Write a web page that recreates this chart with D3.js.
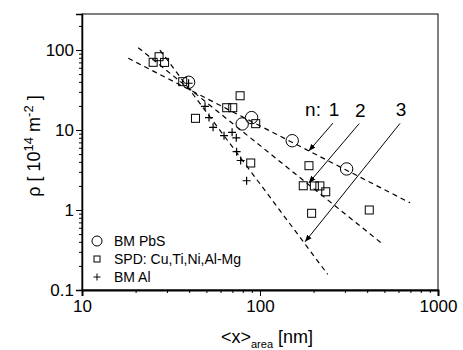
<!DOCTYPE html>
<html><head><meta charset="utf-8">
<script src="https://cdn.jsdelivr.net/npm/d3@7"></script>
<style>body{margin:0;background:#fff}svg{display:block}text{font-family:"Liberation Sans",Arial,sans-serif;fill:#000}</style>
</head><body>
<svg id="c" width="463" height="350"></svg>
<script>
// Data
const pbsX = [39.7, 79.4, 89.7, 151.7, 306.7];
const pbsY = [39.5, 11.9, 14.3, 7.35, 3.26];
const spdX = [25.1, 27.1, 29.1, 36.8, 43.4, 65, 70.3, 77.3, 94.6, 88.7, 188.4, 175, 202, 217, 234, 195, 411];
const spdY = [70.2, 82.5, 70, 40.2, 14.0, 19, 19, 26.8, 12, 3.87, 3.58, 2.01, 2.0, 2.0, 1.69, 0.91, 1.0];
const alX = [39.7, 49.1, 51.7, 54.5, 62.8, 69.7, 73.6, 73.9, 77.9, 84.1];
const alY = [38.4, 19.8, 14.3, 10.8, 8.5, 9.36, 7.99, 5.36, 4.16, 2.32];
// fitted lines n = 1,2,3 : [x0, y0, x1, y1]
const fitN = ["1", "2", "3"];
const fitX0 = [18.2, 20.7, 27.4];
const fitY0 = [78.8, 107, 100];
const fitX1 = [697, 483, 240];
const fitY1 = [1.23, 0.383, 0.157];
// arrows from labels to lines
const arrX0 = [257, 361, 612];
const arrY0 = [12.2, 12.05, 12.1];
const arrX1 = [188, 188, 179];
const arrY1 = [5.46, 2.18, 0.40];
const xTicks = [10, 100, 1000];
const yTicks = [0.1, 1, 10, 100];
const legendLabels = ["BM PbS", "SPD: Cu,Ti,Ni,Al-Mg", "BM Al"];

const svg = d3.select("#c");
const L = 82, R = 438, T = 14, B = 290;
const x = d3.scaleLog().domain([10, 1000]).range([L, R]);
const y = d3.scaleLog().domain([0.1, 282]).range([B, T]);

svg.append("defs").append("marker").attr("id", "ah").attr("viewBox", "0 0 10 10")
  .attr("refX", 10).attr("refY", 5).attr("markerWidth", 7).attr("markerHeight", 7)
  .attr("markerUnits", "userSpaceOnUse").attr("orient", "auto")
  .append("path").attr("d", "M0,1 L10,5 L0,9 Z").attr("fill", "#000");

// frame
svg.append("rect").attr("x", L).attr("y", T).attr("width", R - L).attr("height", B - T)
  .attr("fill", "none").attr("stroke", "#000").attr("stroke-width", 1);

// x axis
const xMinor = [];
for (let d = 10; d < 1000; d *= 10) for (let k = 2; k <= 9; k++) xMinor.push(d * k);
const gx = svg.append("g").attr("transform", `translate(0,${B})`);
gx.call(d3.axisBottom(x).tickValues(xMinor).tickSize(3).tickFormat(""));
gx.call(g => g.select(".domain").remove());
const gx2 = svg.append("g").attr("transform", `translate(0,${B})`)
  .call(d3.axisBottom(x).tickValues(xTicks).tickSize(6).tickFormat(d3.format("d")).tickPadding(4));
gx2.select(".domain").attr("stroke-width", 2);
gx2.selectAll("text").attr("font-size", 17).attr("font-family", "Liberation Sans, Arial");
gx.selectAll("line").attr("stroke-width", 1);

// y axis
const yMinor = [];
for (let d = 0.1; d < 200; d *= 10) for (let k = 2; k <= 9; k++) { const v = +(d * k).toPrecision(3); if (v <= 282) yMinor.push(v); }
const gy = svg.append("g").attr("transform", `translate(${L},0)`)
  .call(d3.axisLeft(y).tickValues(yMinor).tickSize(3).tickFormat(""));
gy.select(".domain").remove();
const gy2 = svg.append("g").attr("transform", `translate(${L},0)`)
  .call(d3.axisLeft(y).tickValues(yTicks).tickSize(6).tickFormat(d => d < 1 ? "0.1" : d3.format("d")(d)).tickPadding(2));
gy2.select(".domain").attr("stroke-width", 1.5);
gy2.selectAll("text").attr("font-size", 17).attr("font-family", "Liberation Sans, Arial");

// dashed fit lines
const lineIdx = d3.range(fitN.length);
svg.append("g").selectAll("line").data(lineIdx).join("line")
  .attr("x1", i => x(fitX0[i])).attr("y1", i => y(fitY0[i]))
  .attr("x2", i => x(fitX1[i])).attr("y2", i => y(fitY1[i]))
  .attr("stroke", "#000").attr("stroke-width", 1.2).attr("stroke-dasharray", "5,4");

// arrows
svg.append("g").selectAll("line").data(lineIdx).join("line")
  .attr("x1", i => x(arrX0[i])).attr("y1", i => y(arrY0[i]))
  .attr("x2", i => x(arrX1[i])).attr("y2", i => y(arrY1[i]))
  .attr("stroke", "#000").attr("stroke-width", 1).attr("marker-end", "url(#ah)");

// labels n: 1 2 3
const lab = svg.append("g").attr("font-size", 19);
lab.selectAll("text.n").data(lineIdx).join("text").attr("class", "n")
  .attr("x", i => x(arrX0[i]) + 1).attr("y", i => y(arrY0[i]) - 7)
  .attr("text-anchor", "middle").text(i => fitN[i]);
lab.append("text").attr("x", x(arrX0[0]) - 12).attr("y", y(arrY0[0]) - 7)
  .attr("text-anchor", "end").text("n:");

// data markers
const pts = svg.append("g").attr("fill", "none").attr("stroke", "#000").attr("stroke-width", 1);
pts.selectAll("circle").data(pbsX).join("circle")
  .attr("cx", (d) => x(d)).attr("cy", (d, i) => y(pbsY[i])).attr("r", 6.2);
pts.selectAll("rect").data(spdX).join("rect")
  .attr("x", d => x(d) - 4).attr("y", (d, i) => y(spdY[i]) - 4).attr("width", 8).attr("height", 8);
pts.selectAll("path").data(alX).join("path")
  .attr("d", (d, i) => { const cx = x(d), cy = y(alY[i]); return `M${cx-4},${cy}H${cx+4}M${cx},${cy-4}V${cy+4}`; })
  .attr("stroke-width", 1.2);

// legend
const lg = svg.append("g");
const lgx = 97, lgy = [241, 259, 277];
lg.append("circle").attr("cx", lgx).attr("cy", lgy[0]).attr("r", 5).attr("fill", "none").attr("stroke", "#000");
lg.append("rect").attr("x", lgx - 3).attr("y", lgy[1] - 3).attr("width", 6).attr("height", 6).attr("fill", "none").attr("stroke", "#000");
lg.append("path").attr("d", `M${lgx-3.5},${lgy[2]}H${lgx+3.5}M${lgx},${lgy[2]-3.5}V${lgy[2]+3.5}`).attr("stroke", "#000");
lg.selectAll("text").data(legendLabels).join("text")
  .attr("x", lgx + 17).attr("y", (d, i) => lgy[i] + 5).attr("font-size", 14).text(d => d);

// axis titles
const xt = svg.append("text").attr("x", 267).attr("y", 343).attr("text-anchor", "middle").attr("font-size", 18);
xt.append("tspan").text("<x>");
xt.append("tspan").attr("font-size", 11).attr("dy", 5).text("area");
xt.append("tspan").attr("dy", -5).text(" [nm]");

const yt = svg.append("text").attr("transform", "translate(40,146) rotate(-90)").attr("text-anchor", "middle").attr("font-size", 18);
yt.append("tspan").text("ρ [ 10");
yt.append("tspan").attr("font-size", 13).attr("dy", -7).text("14");
yt.append("tspan").attr("dy", 7).text(" m");
yt.append("tspan").attr("font-size", 13).attr("dy", -7).text("-2");
yt.append("tspan").attr("dy", 7).text(" ]");
</script>
</body></html>
